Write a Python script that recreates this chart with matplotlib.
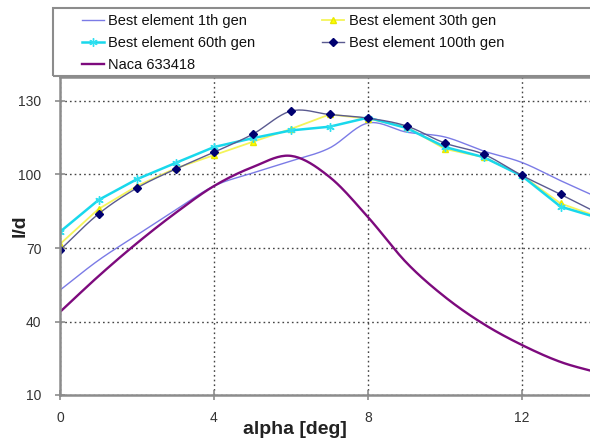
import numpy as np
import matplotlib
matplotlib.use("Agg")
import matplotlib.pyplot as plt
from matplotlib.patches import Rectangle

plt.rcParams['font.family'] = ['Liberation Sans', 'DejaVu Sans']

# angle of attack [deg]
alpha = [0, 1, 2, 3, 4, 5, 6, 7, 8, 9, 10, 11, 12, 13, 14]

gen1 = [52.8, 65.0, 75.3, 85.5, 95.3, 100.6, 105.5, 110.8, 121.0, 117.3, 115.3, 109.6, 104.9, 97.5, 90.4]
gen30 = [71.6, 85.9, 95.3, 102.5, 107.9, 113.3, 118.6, 124.5, 122.8, 119.4, 110.4, 107.1, 99.6, 88.2, 82.6]
gen60 = [76.6, 89.6, 98.1, 104.7, 111.2, 114.8, 118.0, 119.5, 123.2, 119.0, 111.2, 107.1, 99.4, 86.9, 82.2]
gen100 = [69.2, 83.9, 94.5, 102.2, 109.1, 116.4, 125.9, 124.5, 123.0, 119.8, 112.8, 108.3, 99.6, 91.9, 84.0]
naca = [43.9, 58.5, 72.0, 84.3, 95.3, 103.0, 107.6, 99.0, 82.6, 64.0, 50.0, 39.0, 30.4, 23.5, 19.0]

labels = ["Best element 1th gen", "Best element 30th gen", "Best element 60th gen",
          "Best element 100th gen", "Naca 633418"]


def smooth(x, y, n=20):
    """Catmull-Rom curve through the points, like a spreadsheet 'smoothed line'."""
    x = np.asarray(x, float)
    y = np.asarray(y, float)
    px = np.concatenate([[2 * x[0] - x[1]], x, [2 * x[-1] - x[-2]]])
    py = np.concatenate([[2 * y[0] - y[1]], y, [2 * y[-1] - y[-2]]])
    xs, ys = [], []
    t = np.linspace(0, 1, n, endpoint=False)
    for i in range(1, len(px) - 2):
        for p, out in ((px, xs), (py, ys)):
            p0, p1, p2, p3 = p[i - 1], p[i], p[i + 1], p[i + 2]
            out.extend(0.5 * ((2 * p1) + (-p0 + p2) * t
                              + (2 * p0 - 5 * p1 + 4 * p2 - p3) * t ** 2
                              + (-p0 + 3 * p1 - 3 * p2 + p3) * t ** 3))
    xs.append(x[-1])
    ys.append(y[-1])
    return np.array(xs), np.array(ys)


fig = plt.figure(figsize=(5.9, 4.42), dpi=100)
W, H = 590, 442
x0, x1 = 60, 599
y_bot, y_top = 395, 76.5
ax = fig.add_axes([x0 / W, 1 - y_bot / H, (x1 - x0) / W, (y_bot - y_top) / H])

sx, sy = smooth(alpha, gen1)
h1, = ax.plot(sx, sy, color='#7b7be6', lw=1.0)

h30, = ax.plot(alpha, gen30, color='#f4f45a', lw=1.3, marker='^', ms=5,
               mfc='#ffff00', mec='#e8e800')

h60, = ax.plot(alpha, gen60, color='#18d8ec', lw=1.8, marker=(6, 2, 0), ms=6,
               mec='#30e0f0', mew=1.0)

sx, sy = smooth(alpha, gen100)
ax.plot(sx, sy, color='#5a5a90', lw=1.0)
ax.plot(alpha, gen100, ls='none', marker='D', ms=4.2, mfc='#000070', mec='#000070')
h100, = ax.plot([], [], color='#5a5a90', lw=1.0, marker='D', ms=4.2,
                mfc='#000070', mec='#000070')

sx, sy = smooth(alpha, naca)
hn, = ax.plot(sx, sy, color='#7d0a7d', lw=1.7)

ax.set_xlim(0, 14)
ax.set_ylim(10, 140)
ax.set_xticks([0, 4, 8, 12])
ax.set_yticks([10, 40, 70, 100, 130])
ax.grid(True, color='#444444', lw=1.0, ls=(0, (1.2, 2.2)))
ax.set_axisbelow(True)

for side in ('left', 'bottom', 'top'):
    ax.spines[side].set_color('#8c8c8c')
    ax.spines[side].set_linewidth(1.8)
ax.spines['right'].set_visible(False)
ax.tick_params(axis='both', direction='inout', length=7, width=1.2, color='#8c8c8c',
               labelsize=10, labelcolor='#333333', pad=8)
ax.tick_params(axis='y', pad=10)

ax.set_xlabel("alpha [deg]", fontsize=14, fontweight='bold', color='#222222')
ax.xaxis.set_label_coords((295 - x0) / (x1 - x0), -(421 - y_bot) / (y_bot - y_top))
ax.set_ylabel("l/d", fontsize=14, fontweight='bold', color='#222222')
ax.yaxis.set_label_coords(-(x0 - 29) / (x1 - x0), (y_bot - 226) / (y_bot - y_top))

# legend box above the plot
fig.patches.append(Rectangle((53 / W, 1 - 76 / H), 560 / W, 68 / H,
                             transform=fig.transFigure, fill=False,
                             edgecolor='#8c8c8c', lw=1.5))
fig.legend([h1, h60, hn, h30, h100],
           [labels[0], labels[2], labels[4], labels[1], labels[3]],
           ncol=2, loc='upper left', bbox_to_anchor=(82 / W, 1 - 14 / H),
           frameon=False, borderpad=0, borderaxespad=0, fontsize=10.5,
           handlelength=1.5, handletextpad=0.3, columnspacing=4.6,
           labelspacing=0.55, labelcolor='#111111')

fig.savefig("out.png", dpi=100)
